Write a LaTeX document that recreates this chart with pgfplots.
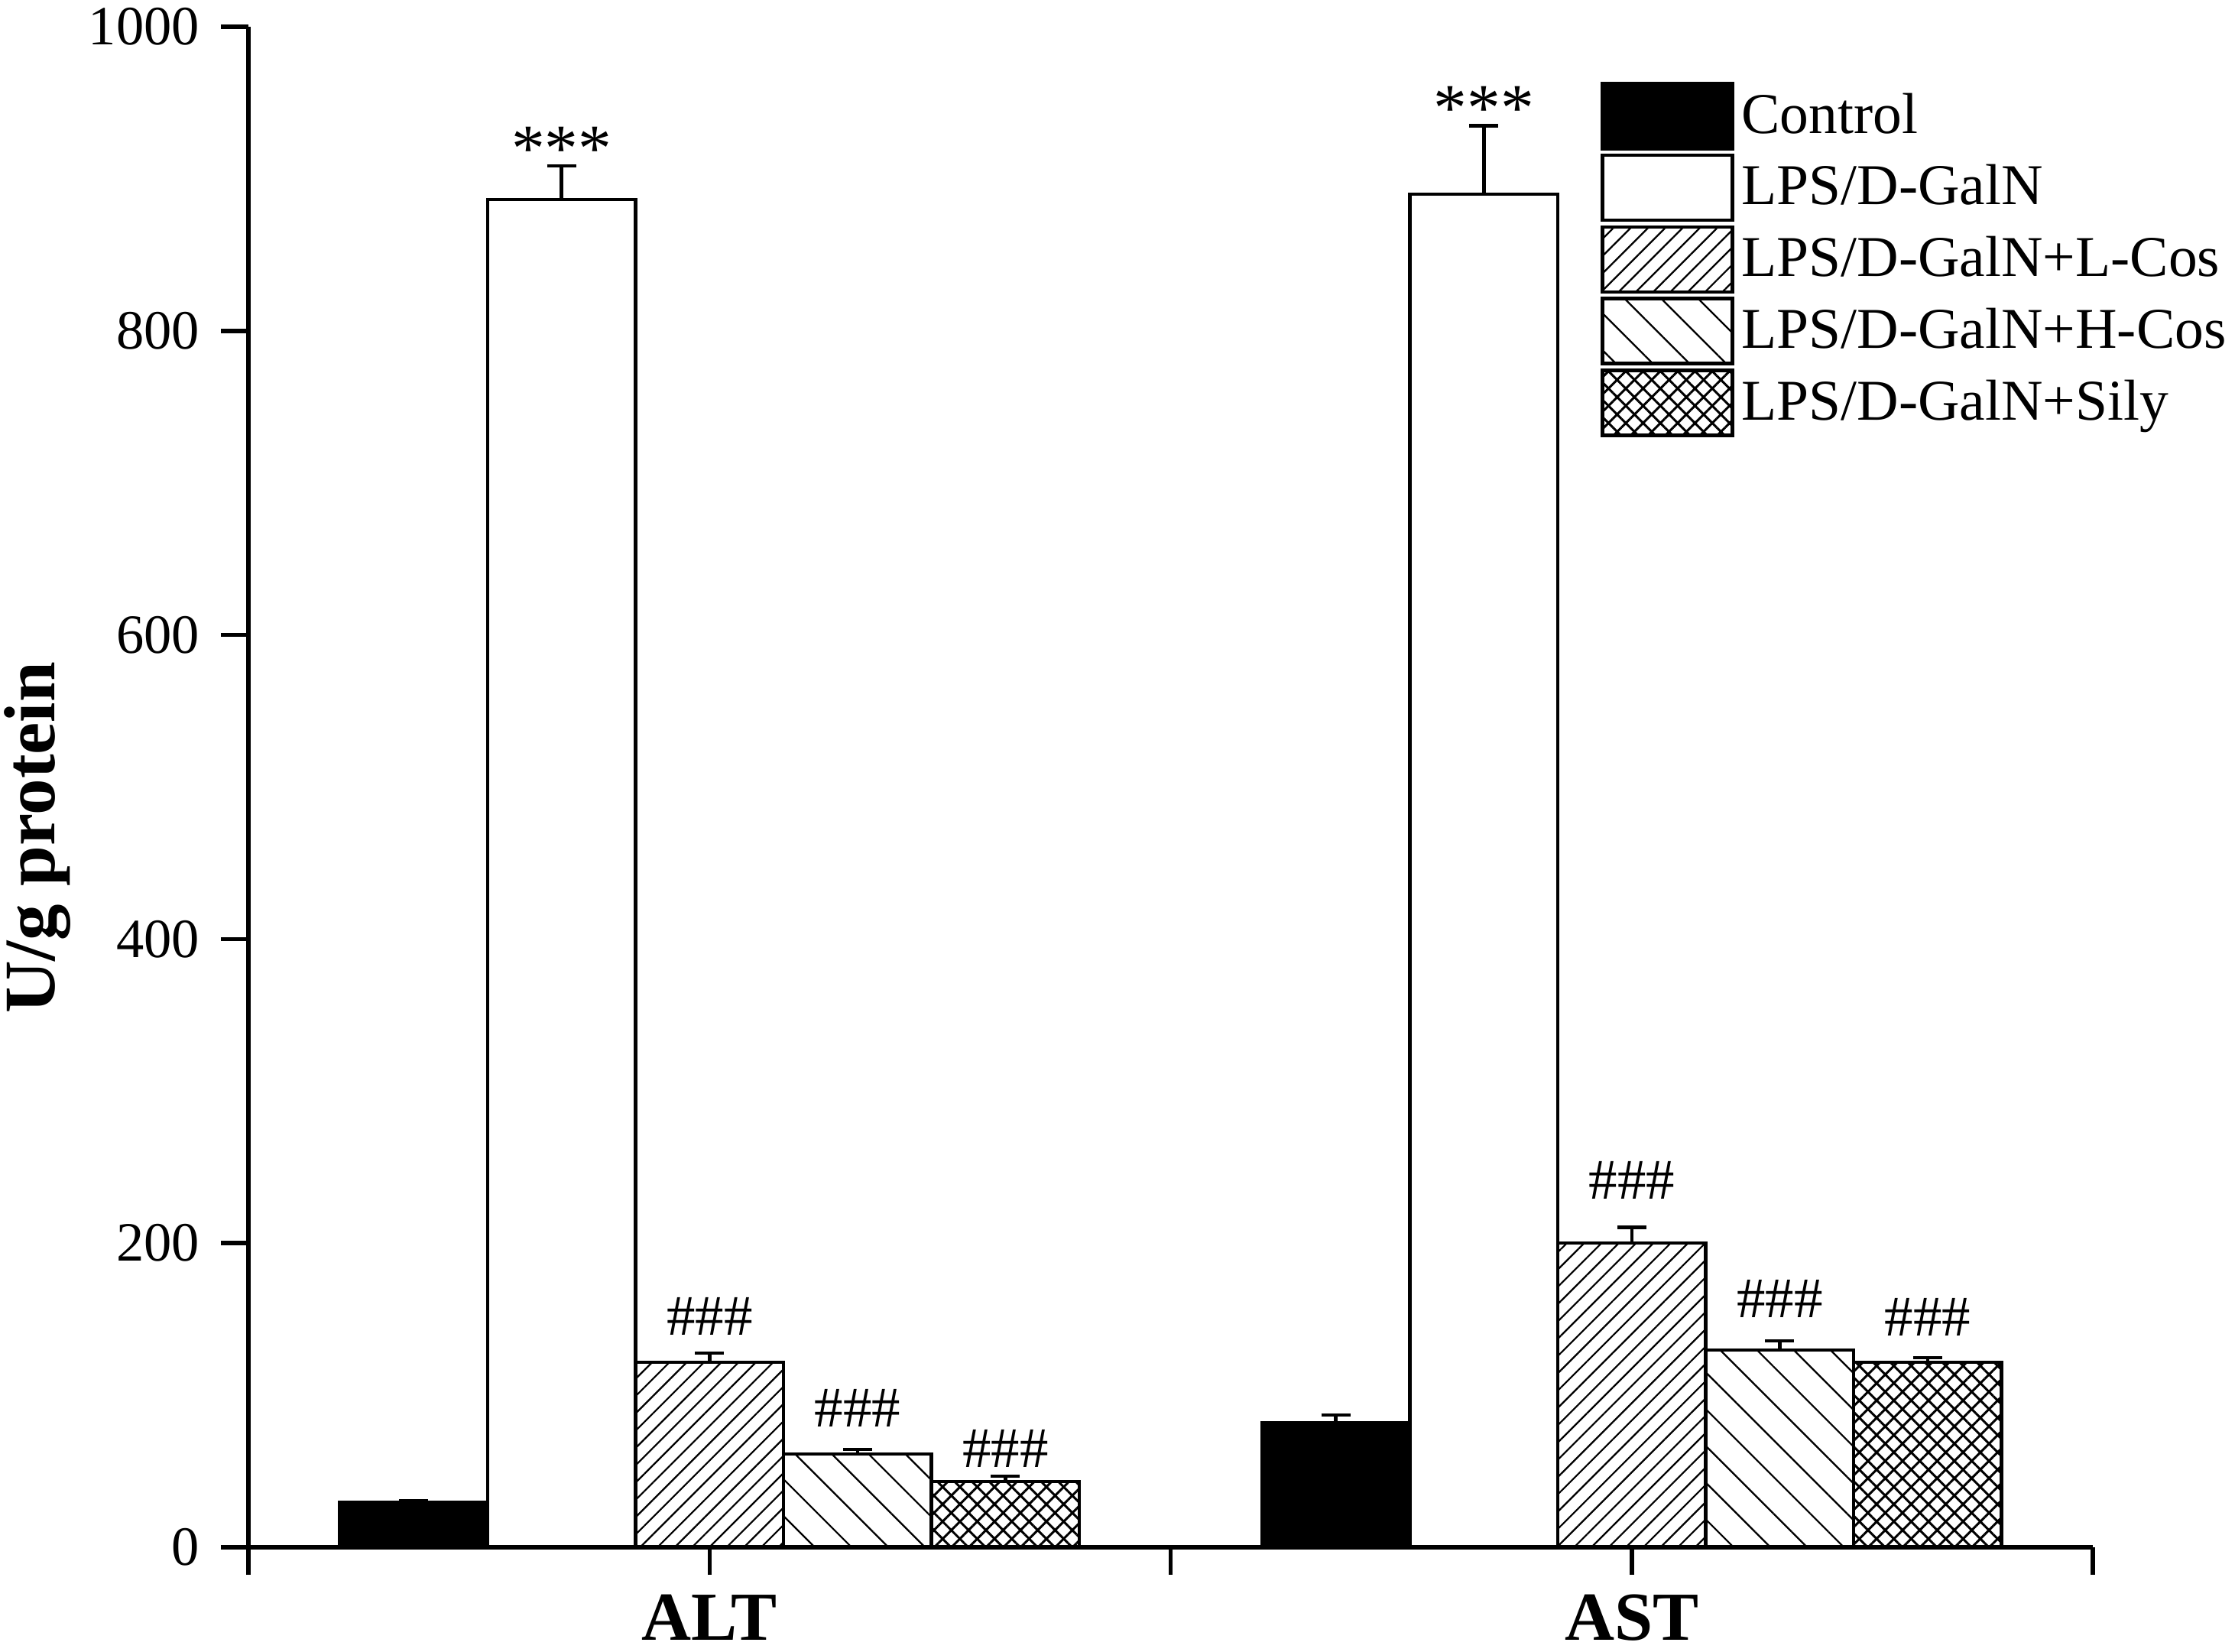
\documentclass[border=0pt]{standalone}
\usepackage{fontspec}
\setmainfont{Liberation Serif}
\usepackage{pgfplots}
\pgfplotsset{compat=1.18}
\usetikzlibrary{patterns.meta}

\pgfplotsset{
  boxlegend/.style={legend image code/.code={\draw[##1,line width=0.9pt] (0pt,-8.5pt) rectangle (34pt,8.5pt);}},
  mybar/.style={ybar, bar width=0.1604, bar shift=0pt, draw=black, line width=0.9pt, boxlegend,
    /pgfplots/error bars/y dir=plus, /pgfplots/error bars/y explicit,
    /pgfplots/error bars/error bar style={line width=0.9pt, black, solid},
    /pgfplots/error bars/error mark options={rotate=90, mark size=3.8pt, line width=0.9pt, black}},
}

\begin{document}
\begin{tikzpicture}
\begin{axis}[
  name=ax,
  width=482.6pt, height=397.8pt, scale only axis,
  xmin=0, xmax=2, ymin=0, ymax=1000,
  axis x line*=bottom, axis y line*=left,
  axis on top,
  axis line style={line width=1.1pt, black},
  tick style={line width=1.1pt, black},
  tick align=outside,
  major tick length=7.2pt,
  xtick={0,0.5,1,1.5,2},
  xticklabels={,ALT,,AST,},
  ytick={0,200,400,600,800,1000},
  /pgf/number format/assume math mode=true,
  /pgf/number format/1000 sep={},
  yticklabel style={font=\fontsize{14.5}{17}\selectfont, inner sep=0pt, xshift=-5.4pt},
  xticklabel style={font=\bfseries\fontsize{18}{21}\selectfont, inner sep=0pt, yshift=-5pt},
  ylabel={U/g protein},
  every axis y label/.style={at={(axis description cs:-0.10526,0.4666)}, rotate=90, anchor=base, inner sep=0pt, font=\bfseries\fontsize{19}{22}\selectfont},
  legend style={at={(axis description cs:0.7327,0.9643)}, anchor=north west, draw=none, fill=none, inner sep=0pt,
    row sep=0.85pt, font=\fontsize{15.1}{18}\selectfont, cells={anchor=west},
    /tikz/every even column/.append style={column sep=4.4pt}},
  clip=false,
]
% Control
\addplot[fill=black, mybar] coordinates {
  (0.1792,29.5) +- (0,1.0)
  (1.1792,82.0) +- (0,5.0)
};
\addlegendentry{Control}
% LPS/D-GalN
\addplot[fill=white, mybar] coordinates {
  (0.3396,886.5) +- (0,22.0)
  (1.3396,890.0) +- (0,45.0)
};
\addlegendentry{LPS/D-GalN}
% + L-Cos
\addplot[fill=white, postaction={pattern={Lines[angle=45,distance=3.2pt,line width=0.45pt]}, pattern color=black}, mybar] coordinates {
  (0.5,121.6) +- (0,6.0)
  (1.5,200.0) +- (0,10.5)
};
\addlegendentry{LPS/D-GalN+L-Cos}
% + H-Cos
\addplot[fill=white, postaction={pattern={Lines[angle=-45,distance=6.8pt,line width=0.45pt]}, pattern color=black}, mybar] coordinates {
  (0.6604,61.3) +- (0,3.0)
  (1.6604,129.7) +- (0,6.0)
};
\addlegendentry{LPS/D-GalN+H-Cos}
% + Sily
\addplot[fill=white, postaction={pattern={Hatch[angle=45,distance=3.2pt,line width=0.6pt]}, pattern color=black}, mybar] coordinates {
  (0.8208,43.2) +- (0,3.5)
  (1.8208,121.6) +- (0,3.0)
};
\addlegendentry{LPS/D-GalN+Sily}

\begin{scope}[every node/.style={anchor=base, inner sep=0pt, font=\fontsize{15}{18}\selectfont}]
\node[font=\fontsize{17.5}{20}\selectfont] at (axis cs:0.3396,905) {***};
\node[font=\fontsize{17.5}{20}\selectfont] at (axis cs:1.3396,932) {***};
\node at (axis cs:0.5,139.7) {\#\#\#};
\node at (axis cs:0.6604,79.4) {\#\#\#};
\node at (axis cs:0.8208,52.8) {\#\#\#};
\node at (axis cs:1.5,229) {\#\#\#};
\node at (axis cs:1.6604,151) {\#\#\#};
\node at (axis cs:1.8208,139) {\#\#\#};
\end{scope}
\end{axis}
\pgfresetboundingbox
\path[use as bounding box] ([xshift=-65pt,yshift=-27.2pt]ax.south west) rectangle ([xshift=37.2pt,yshift=7pt]ax.north east);
\end{tikzpicture}
\end{document}
